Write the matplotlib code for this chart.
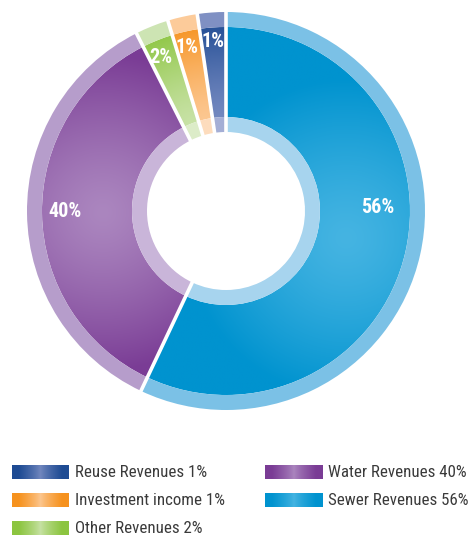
import numpy as np
import matplotlib.pyplot as plt
from matplotlib import font_manager
from matplotlib.patches import Wedge
from matplotlib.colors import to_rgb

# Slices in clockwise order from 12 o'clock
categories = ["Sewer Revenues", "Water Revenues", "Other Revenues",
              "Investment income", "Reuse Revenues"]
pct_labels = ["56%", "40%", "2%", "1%", "1%"]
# slice sizes as actually drawn in the graphic (small ones are enlarged)
drawn_shares = [56.8, 35.4, 2.7, 2.4, 2.3]

# legend order (column-major: left column then right column)
legend_order = ["Reuse Revenues", "Investment income", "Other Revenues",
                "Water Revenues", "Sewer Revenues"]

# colours: dark, light (gradient centre), outer ring, inner ring
DARK = ["#0093cf", "#7a3c95", "#8cc540", "#f6921e", "#1e4b93"]
LIGHT = ["#45b4e2", "#ab86bf", "#c8e2a6", "#fcc791", "#7388bf"]
OUTER = ["#7bc1e6", "#b69dcb", "#cde4b3", "#fccb9a", "#7f90c3"]
INNER = ["#a7d4ee", "#c9b5d9", "#dcecc8", "#fddcbd", "#a4aed5"]

W, H = 470, 536
CX, CY, R_PX = 226, 211, 199
R_HOLE, R_IN, R_OUT = 79 / R_PX, 94 / R_PX, 184 / R_PX
HALF = 205 / R_PX

# label placement (clockwise angle from top in degrees, radius)
LABEL_POS = [(88.5, 0.76), (270, 0.81), (337, 0.84), (346.5, 0.845), (355.5, 0.855)]


def pick_font(prefs):
    have = {f.name for f in font_manager.fontManager.ttflist}
    for p in prefs:
        if p in have:
            return [p, "DejaVu Sans"]
    return ["DejaVu Sans"]


TEXT_FONT = pick_font(["Roboto Condensed", "Archivo Narrow", "Liberation Sans Narrow",
                       "Asap Condensed", "Barlow Condensed"])
BOLD_FONT = pick_font(["Roboto Condensed", "Asap Condensed", "Barlow Condensed",
                       "Liberation Sans Narrow"])


def radial_image(dark, light, cx, cy, spread, n=500):
    xs = np.linspace(-HALF, HALF, n)
    X, Y = np.meshgrid(xs, xs[::-1])
    d = np.clip(np.hypot(X - cx, Y - cy) / spread, 0, 1) ** 1.3
    d0, l0 = np.array(to_rgb(dark)), np.array(to_rgb(light))
    return l0[None, None, :] * (1 - d[..., None]) + d0[None, None, :] * d[..., None]


def main():
    fig = plt.figure(figsize=(W / 100, H / 100), dpi=100)

    # pixel-coordinate axes for the legend
    lax = fig.add_axes([0, 0, 1, 1])
    lax.axis("off")

    ax = fig.add_axes([(CX - 205) / W, (H - CY - 205) / H, 410 / W, 410 / H])

    wedges, _ = ax.pie(drawn_shares, startangle=90, counterclock=False,
                       radius=R_OUT, wedgeprops=dict(width=R_OUT - R_IN, linewidth=0),
                       colors=DARK)

    for i, w in enumerate(wedges):
        t1, t2 = w.theta1, w.theta2
        mid = np.deg2rad((t1 + t2) / 2)
        big = abs(t2 - t1) > 60
        rc = 0.62 if big else 0.47
        spread = 0.8 if big else 0.5
        img = radial_image(DARK[i], LIGHT[i], rc * np.cos(mid), rc * np.sin(mid), spread)
        im = ax.imshow(img, extent=[-HALF, HALF, -HALF, HALF], zorder=1, interpolation="bilinear")
        im.set_clip_path(w)
        w.set_facecolor("none")
        ax.add_patch(Wedge((0, 0), 1.0, t1, t2, width=1.0 - R_OUT, color=OUTER[i], lw=0, zorder=2))
        ax.add_patch(Wedge((0, 0), R_IN, t1, t2, width=R_IN - R_HOLE, color=INNER[i], lw=0, zorder=2))

    # white separators between slices
    for w in wedges:
        a = np.deg2rad(w.theta1)
        ax.plot([0.3 * np.cos(a), 1.05 * np.cos(a)], [0.3 * np.sin(a), 1.05 * np.sin(a)],
                color="white", lw=2.6, solid_capstyle="butt", zorder=3)

    for lab, (ang, r) in zip(pct_labels, LABEL_POS):
        a = np.deg2rad(ang)
        ax.text(r * np.sin(a), r * np.cos(a), lab, color="white", fontsize=14.5,
                fontweight="bold", family=BOLD_FONT, ha="center", va="center", zorder=4)

    ax.set_xlim(-HALF, HALF)
    ax.set_ylim(-HALF, HALF)
    ax.set_aspect("equal")
    ax.axis("off")

    # legend
    rows = [472, 500, 528]
    cols = [(12, 69, 75), (265, 323, 328)]
    gx = np.linspace(-1, 1, 120)
    g = np.clip(np.abs(gx) * 1.3, 0, 1) ** 0.8
    for k, name in enumerate(legend_order):
        i = categories.index(name)
        col = cols[0] if k < 3 else cols[1]
        y = rows[k if k < 3 else k - 3]
        d0, l0 = np.array(to_rgb(DARK[i])), np.array(to_rgb(LIGHT[i]))
        strip = (l0[None, :] * (1 - g[:, None]) + d0[None, :] * g[:, None])[None, :, :]
        lax.imshow(strip, extent=[col[0], col[1], y + 7, y - 7], aspect="auto",
                   interpolation="bilinear")
        lax.text(col[2], y + 0.5, f"{name} {pct_labels[i]}", fontsize=12.2, family=TEXT_FONT,
                 color="#3a3a3a", ha="left", va="center")
    lax.set_xlim(0, W)
    lax.set_ylim(H, 0)

    fig.savefig("out.png", dpi=100)
    plt.close(fig)


if __name__ == "__main__":
    main()
